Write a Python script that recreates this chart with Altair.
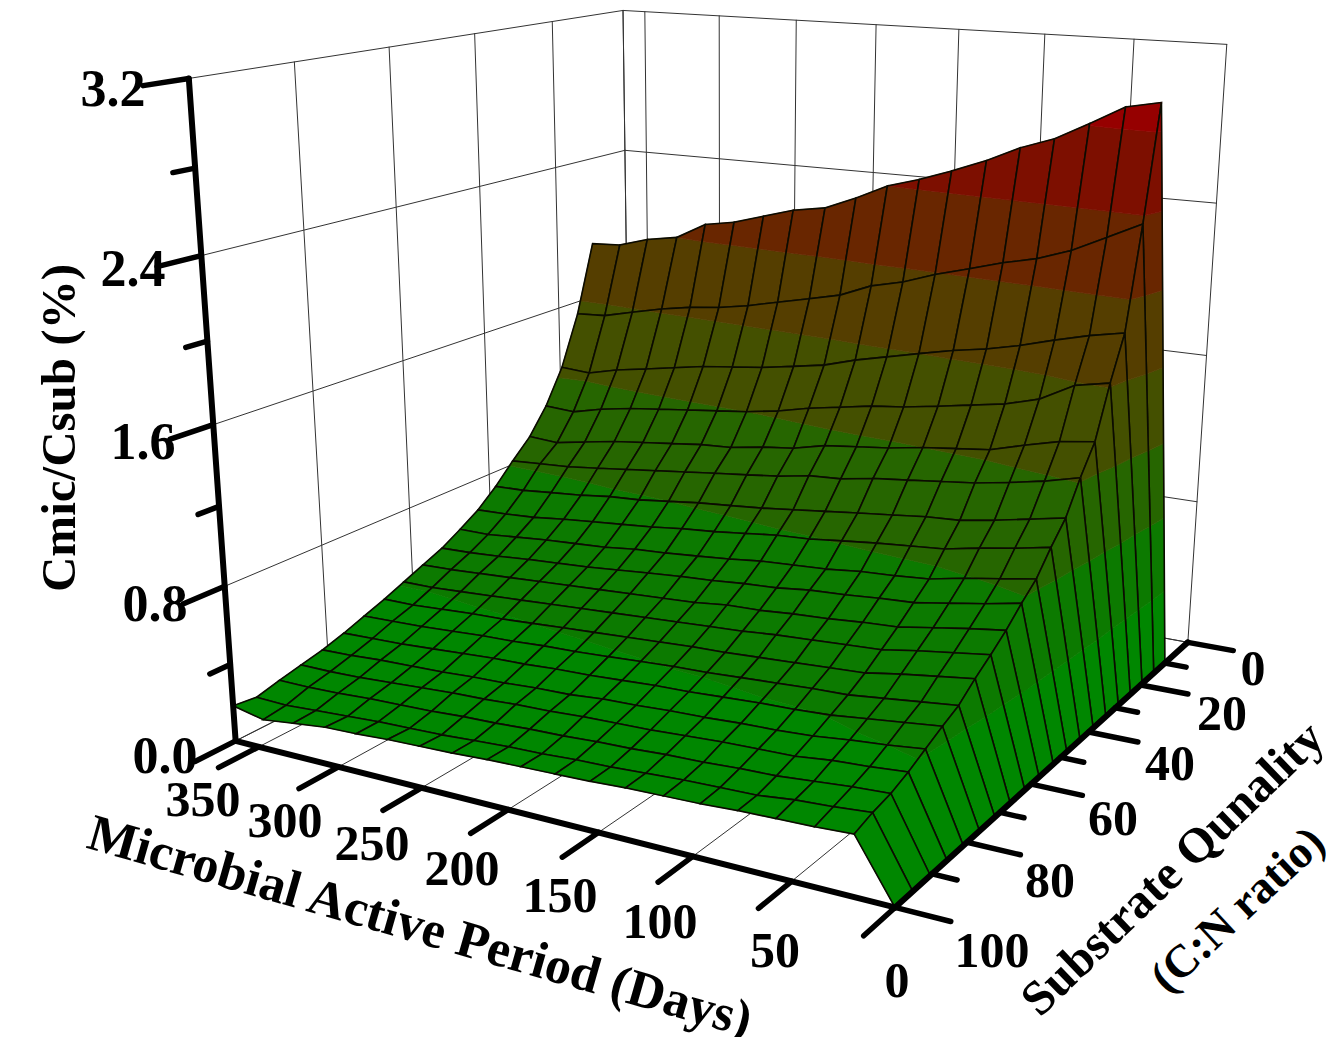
import numpy as np
import altair as alt

# ---------- values ----------
DAYS = [0, 20, 39, 58, 77, 96, 115, 135, 154, 173, 192, 211, 231, 250, 269, 288, 307, 327, 346, 365]
CN = [10, 14.7, 19.5, 24.2, 28.9, 33.7, 38.4, 43.2, 47.9, 52.6, 57.4, 62.1, 66.8, 71.6, 76.3, 81.1, 85.8, 90.5, 95.3, 100]
# one row per C:N value, one column per day from day 20 to day 365 (day 0 is zero)
R01 = [2.94,2.905,2.81,2.72,2.66,2.58,2.51,2.45,2.40,2.32,2.25,2.22,2.17,2.12,2.09,2.00,1.97,1.92,1.91]
R02 = [2.36,2.275,2.19,2.13,2.09,2.04,1.99,1.93,1.89,1.82,1.78,1.74,1.70,1.67,1.65,1.62,1.58,1.54,1.53]
R03 = [1.84,1.805,1.76,1.71,1.67,1.64,1.60,1.56,1.52,1.47,1.44,1.41,1.39,1.37,1.34,1.31,1.28,1.24,1.25]
R04 = [1.62,1.585,1.49,1.44,1.41,1.38,1.35,1.33,1.30,1.27,1.23,1.20,1.18,1.16,1.14,1.12,1.09,1.05,1.06]
R05 = [1.36,1.335,1.29,1.24,1.22,1.20,1.17,1.15,1.13,1.09,1.07,1.04,1.03,1.01,.99,.97,.94,.91,.92]
R06 = [1.22,1.175,1.14,1.11,1.09,1.07,1.05,1.02,1.01,.98,.96,.94,.92,.90,.88,.86,.84,.83,.82]
R07 = [1.06,1.025,.99,.96,.95,.93,.91,.89,.87,.85,.835,.82,.80,.78,.77,.75,.735,.72,.715]
R08 = [.96,.925,.895,.86,.845,.83,.81,.79,.78,.76,.74,.725,.705,.69,.675,.66,.64,.63,.625]
R09 = [.85,.82,.79,.755,.74,.73,.71,.70,.69,.67,.655,.64,.63,.61,.60,.59,.575,.56,.56]
R10 = [.78,.745,.715,.685,.675,.66,.65,.63,.62,.605,.595,.58,.565,.55,.54,.53,.515,.505,.50]
R11 = [.70,.675,.645,.615,.605,.59,.58,.565,.56,.54,.53,.52,.51,.50,.49,.48,.47,.46,.455]
R12 = [.635,.61,.585,.555,.545,.535,.525,.51,.50,.49,.48,.47,.46,.45,.44,.43,.42,.41,.41]
R13 = [.575,.55,.525,.495,.485,.475,.465,.455,.45,.44,.43,.42,.41,.40,.39,.385,.375,.365,.365]
R14 = [.505,.485,.465,.445,.44,.43,.42,.41,.405,.395,.385,.375,.37,.36,.355,.345,.335,.33,.325]
R15 = [.465,.445,.425,.405,.395,.39,.38,.37,.365,.355,.345,.34,.33,.325,.315,.305,.295,.29,.285]
R16 = [.42,.40,.385,.365,.355,.35,.34,.335,.325,.32,.305,.30,.29,.285,.275,.27,.265,.255,.25]
R17 = [.375,.36,.35,.33,.325,.32,.31,.30,.295,.29,.28,.275,.265,.26,.25,.24,.23,.225,.225]
R18 = [.34,.33,.315,.30,.295,.285,.28,.27,.265,.255,.25,.24,.235,.225,.22,.215,.205,.20,.20]
R19 = [.32,.305,.295,.275,.27,.265,.255,.245,.24,.23,.225,.215,.205,.20,.195,.185,.175,.165,.17]
R20 = [.29,.28,.275,.27,.26,.255,.25,.24,.235,.23,.225,.215,.21,.205,.195,.19,.17,.15,.185]
ROWS = [R01,R02,R03,R04,R05,R06,R07,R08,R09,R10,R11,R12,R13,R14,R15,R16,R17,R18,R19,R20]

DAY_TICKS = [350, 300, 250, 200, 150, 100, 50, 0]
CN_TICKS = [100, 80, 60, 40, 20, 0]
CN_MINOR = [90, 70, 50, 30, 10]
Z_TICKS = [0.0, 0.8, 1.6, 2.4, 3.2]
Z_MINOR = [0.4, 1.2, 2.0, 2.8]
DAY_MAX, CN_MAX, Z_MAX = 365, 100, 3.2

BAND_LEVELS = [0, .4, .8, 1.2, 1.6, 2.0, 2.4, 2.8, 3.3]
BAND_COLORS = ["#008700", "#0C7A00", "#266600", "#445000", "#553E00", "#692600", "#7D0F00", "#960000"]

FONT = "Liberation Serif"
DAY_LABELS = [("350",203,801),("300",285,822),("250",372,845),("200",462,870),
              ("150",560,897),("100",660,923),("50",775,952),("0",897,982)]
CN_LABELS = [("0",1253,670),("20",1222,715),("40",1170,765),("60",1113,820),("80",1050,882),("100",992,952)]
Z_LABELS = [("3.2",113,90),("2.4",133,270),("1.6",143,443),("0.8",155,605),("0.0",165,757)]

# ---------- camera calibrated on the box of the picture ----------
CAL = [((365,100,0),(237,738)),((0,100,0),(893,907)),((0,0,0),(1188,642)),
       ((365,100,3.2),(190,76)),((365,0,3.2),(622,10)),((0,0,3.2),(1226,44)),
       ((365,100,.8),(222,592)),((365,100,1.6),(213,427)),((365,100,2.4),(202,258)),
       ((0,0,.8),(1197,503)),((0,0,1.6),(1205,356)),((0,0,2.4),(1215,203)),
       ((365,0,2.4),(625,150)),((350,100,0),(258,745)),((300,100,0),(340,767)),
       ((250,100,0),(420,787)),((200,100,0),(507,808)),((0,20,0),(1143,685)),
       ((0,80,0),(970,843)),((350,0,3.2),(645,12)),((100,0,3.2),(1045,34)),
       ((50,0,3.2),(1135,39)),((365,80,3.2),(295,61)),((365,60,3.2),(389,47)),
       ((365,40,3.2),(475,33)),((365,20,3.2),(553,22))]
A = []
for (x, y, z), (u, v) in CAL:
    X = [x / DAY_MAX, y / CN_MAX, z / Z_MAX, 1]
    A.append(X + [0, 0, 0, 0] + [-u / 1000 * c for c in X])
    A.append([0, 0, 0, 0] + X + [-v / 1000 * c for c in X])
P = np.linalg.svd(np.array(A))[2][-1].reshape(3, 4)


def project(x, y, z):
    h = P @ np.array([x / DAY_MAX, y / CN_MAX, z / Z_MAX, 1])
    return [float(h[0] / h[2] * 1000), float(h[1] / h[2] * 1000)]


def poly_feature(points3d, fill, stroke, width):
    ring = [project(*p) for p in points3d]
    ring.append(ring[0])
    return {"type": "Feature", "geometry": {"type": "Polygon", "coordinates": [ring]},
            "properties": {"f": fill, "s": stroke, "w": width}}


def line_feature(a, b, stroke, width):
    return {"type": "Feature",
            "geometry": {"type": "LineString", "coordinates": [project(*a), project(*b)]},
            "properties": {"s": stroke, "w": width}}


def clip(poly, level, keep_above):
    out = []
    n = len(poly)
    for i in range(n):
        p, q = poly[i], poly[(i + 1) % n]
        pin = p[2] >= level if keep_above else p[2] <= level
        qin = q[2] >= level if keep_above else q[2] <= level
        if pin:
            out.append(p)
        if pin != qin:
            t = (level - p[2]) / (q[2] - p[2])
            out.append(tuple(p[k] + t * (q[k] - p[k]) for k in range(3)))
    return out


# ---------- surface, back to front ----------
heights = [[0.0] + list(r) for r in ROWS]
surface = []
for j in range(len(CN) - 1):
    for i in range(len(DAYS) - 2, -1, -1):
        quad = [(DAYS[i], CN[j], heights[j][i]), (DAYS[i + 1], CN[j], heights[j][i + 1]),
                (DAYS[i + 1], CN[j + 1], heights[j + 1][i + 1]), (DAYS[i], CN[j + 1], heights[j + 1][i])]
        for b, color in enumerate(BAND_COLORS):
            part = clip(clip(quad, BAND_LEVELS[b], True), BAND_LEVELS[b + 1], False)
            if len(part) >= 3:
                surface.append(poly_feature(part, color, color, 0.7))
        surface.append(poly_feature(quad, "transparent", "#0b0b00", 1.6))

# ---------- box grid and axes ----------
grid = []
GRID = "#333333"
for d in DAY_TICKS + [DAY_MAX]:
    grid.append(line_feature((d, 0, 0), (d, 0, Z_MAX), GRID, 1))
    grid.append(line_feature((d, 0, 0), (d, CN_MAX, 0), GRID, 1))
for c in CN_TICKS:
    grid.append(line_feature((DAY_MAX, c, 0), (DAY_MAX, c, Z_MAX), GRID, 1))
    grid.append(line_feature((0, c, 0), (DAY_MAX, c, 0), GRID, 1))
for z in Z_TICKS:
    grid.append(line_feature((DAY_MAX, 0, z), (DAY_MAX, CN_MAX, z), GRID, 1))
    grid.append(line_feature((0, 0, z), (DAY_MAX, 0, z), GRID, 1))

axes = [line_feature((DAY_MAX, CN_MAX, 0), (DAY_MAX, CN_MAX, Z_MAX), "black", 6),
        line_feature((DAY_MAX, CN_MAX, 0), (0, CN_MAX, 0), "black", 6),
        line_feature((0, CN_MAX, 0), (0, 0, 0), "black", 6)]
for z in Z_TICKS:
    axes.append(line_feature((DAY_MAX, CN_MAX, z), (DAY_MAX, CN_MAX + 8, z), "black", 5.5))
for z in Z_MINOR:
    axes.append(line_feature((DAY_MAX, CN_MAX, z), (DAY_MAX, CN_MAX + 4, z), "black", 5.5))
for d in DAY_TICKS:
    axes.append(line_feature((d, CN_MAX, 0), (d, CN_MAX + 8, 0), "black", 5.5))
for c in CN_TICKS:
    axes.append(line_feature((0, c, 0), (-26, c, 0), "black", 5.5))
for c in CN_MINOR:
    axes.append(line_feature((0, c, 0), (-12, c, 0), "black", 5.5))

# an empty frame the size of the chart fixes the projection on the page
frame = [{"type": "Feature", "geometry": {"type": "Polygon", "coordinates": [[[8, 8], [1326, 8], [1326, 1037], [8, 1037], [8, 8]]]},
          "properties": {"f": "transparent", "s": "transparent", "w": 0}}]

PROJ = dict(type="identity", scale=1, translate=[-8, -8])


def polys(features):
    return alt.Chart(alt.Data(values=features)).mark_geoshape().encode(
        fill=alt.Fill("properties.f:N", scale=None),
        stroke=alt.Stroke("properties.s:N", scale=None),
        strokeWidth=alt.StrokeWidth("properties.w:Q", scale=None),
    ).project(**PROJ)


def lines(features):
    return alt.Chart(alt.Data(values=features)).mark_geoshape(filled=False, strokeCap="round").encode(
        stroke=alt.Stroke("properties.s:N", scale=None),
        strokeWidth=alt.StrokeWidth("properties.w:Q", scale=None),
    ).project(**PROJ)


def texts(rows, size, angle=0):
    data = [{"t": t, "px": x, "py": y} for t, x, y in rows]
    return alt.Chart(alt.Data(values=data)).mark_text(
        font=FONT, fontWeight="bold", fontSize=size, angle=angle, color="black",
        align="center", baseline="middle",
    ).encode(longitude=alt.Longitude("px:Q"), latitude=alt.Latitude("py:Q"), text=alt.Text("t:N")).project(**PROJ)


chart = alt.layer(
    polys(frame),
    lines(grid),
    polys(surface),
    lines(axes),
    texts(DAY_LABELS + CN_LABELS, 50),
    texts(Z_LABELS, 52),
    texts([("Cmic/Csub (%)", 60, 428)], 49, 270),
    texts([("Microbial Active Period (Days)", 420, 927)], 52, 16),
    texts([("Substrate Qunality", 1173, 869)], 49, 316),
    texts([("(C:N ratio)", 1238, 910)], 46, 317),
).properties(width=1318, height=1029, padding=0, background="white",
             autosize=alt.AutoSizeParams(type="none")).configure_view(stroke=None)

chart.save("out.html", embed_options={"renderer": "svg", "actions": False})
